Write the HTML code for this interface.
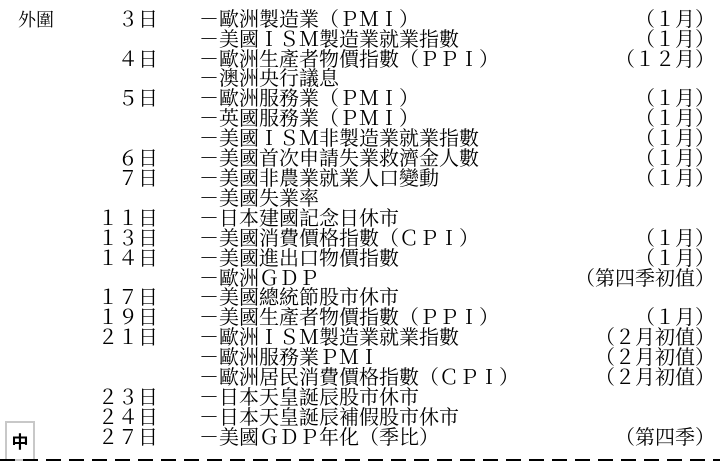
<!DOCTYPE html>
<html><head><meta charset="utf-8"><style>
body{margin:0;width:720px;height:466px;background:#fff;position:relative;overflow:hidden;font-family:"Liberation Serif","Noto Serif CJK SC",serif;color:#000;}
.r{position:absolute;left:0;width:720px;height:20px;font-size:20px;line-height:20px;white-space:nowrap}
.d{position:absolute;right:562px;top:0}
.i{position:absolute;left:199px;top:0}
.m{position:absolute;right:5px;top:0}
.t{position:absolute;left:18px;top:10px;font-size:18px;line-height:20px}
.box{position:absolute;left:5px;top:421px;width:26px;height:36px;border:2px solid #c8c8c8;font-family:"Noto Sans CJK SC",sans-serif;font-size:17px;font-weight:bold;line-height:36px;text-align:center}
.dash{position:absolute;left:0;top:459px;width:720px;height:1.5px;background:repeating-linear-gradient(90deg,#000 0 15px,transparent 15px 23px)}
</style></head><body>
<div class="t">外圍</div>
<div class="r" style="top:10px"><span class="d">３日</span><span class="i">－歐洲製造業（ＰＭＩ）</span><span class="m">（１月）</span></div>
<div class="r" style="top:30px"><span class="i">－美國ＩＳＭ製造業就業指數</span><span class="m">（１月）</span></div>
<div class="r" style="top:50px"><span class="d">４日</span><span class="i">－歐洲生產者物價指數（ＰＰＩ）</span><span class="m">（１２月）</span></div>
<div class="r" style="top:69px"><span class="i">－澳洲央行議息</span></div>
<div class="r" style="top:89px"><span class="d">５日</span><span class="i">－歐洲服務業（ＰＭＩ）</span><span class="m">（１月）</span></div>
<div class="r" style="top:109px"><span class="i">－英國服務業（ＰＭＩ）</span><span class="m">（１月）</span></div>
<div class="r" style="top:129px"><span class="i">－美國ＩＳＭ非製造業就業指數</span><span class="m">（１月）</span></div>
<div class="r" style="top:149px"><span class="d">６日</span><span class="i">－美國首次申請失業救濟金人數</span><span class="m">（１月）</span></div>
<div class="r" style="top:169px"><span class="d">７日</span><span class="i">－美國非農業就業人口變動</span><span class="m">（１月）</span></div>
<div class="r" style="top:189px"><span class="i">－美國失業率</span></div>
<div class="r" style="top:209px"><span class="d">１１日</span><span class="i">－日本建國記念日休市</span></div>
<div class="r" style="top:229px"><span class="d">１３日</span><span class="i">－美國消費價格指數（ＣＰＩ）</span><span class="m">（１月）</span></div>
<div class="r" style="top:249px"><span class="d">１４日</span><span class="i">－美國進出口物價指數</span><span class="m">（１月）</span></div>
<div class="r" style="top:269px"><span class="i">－歐洲ＧＤＰ</span><span class="m">（第四季初值）</span></div>
<div class="r" style="top:288px"><span class="d">１７日</span><span class="i">－美國總統節股市休市</span></div>
<div class="r" style="top:308px"><span class="d">１９日</span><span class="i">－美國生產者物價指數（ＰＰＩ）</span><span class="m">（１月）</span></div>
<div class="r" style="top:328px"><span class="d">２１日</span><span class="i">－歐洲ＩＳＭ製造業就業指數</span><span class="m">（２月初值）</span></div>
<div class="r" style="top:348px"><span class="i">－歐洲服務業ＰＭＩ</span><span class="m">（２月初值）</span></div>
<div class="r" style="top:368px"><span class="i">－歐洲居民消費價格指數（ＣＰＩ）</span><span class="m">（２月初值）</span></div>
<div class="r" style="top:388px"><span class="d">２３日</span><span class="i">－日本天皇誕辰股市休市</span></div>
<div class="r" style="top:408px"><span class="d">２４日</span><span class="i">－日本天皇誕辰補假股市休市</span></div>
<div class="r" style="top:428px"><span class="d">２７日</span><span class="i">－美國ＧＤＰ年化（季比）</span><span class="m">（第四季）</span></div>
<div class="box">中</div>
<div class="dash"></div>
</body></html>
